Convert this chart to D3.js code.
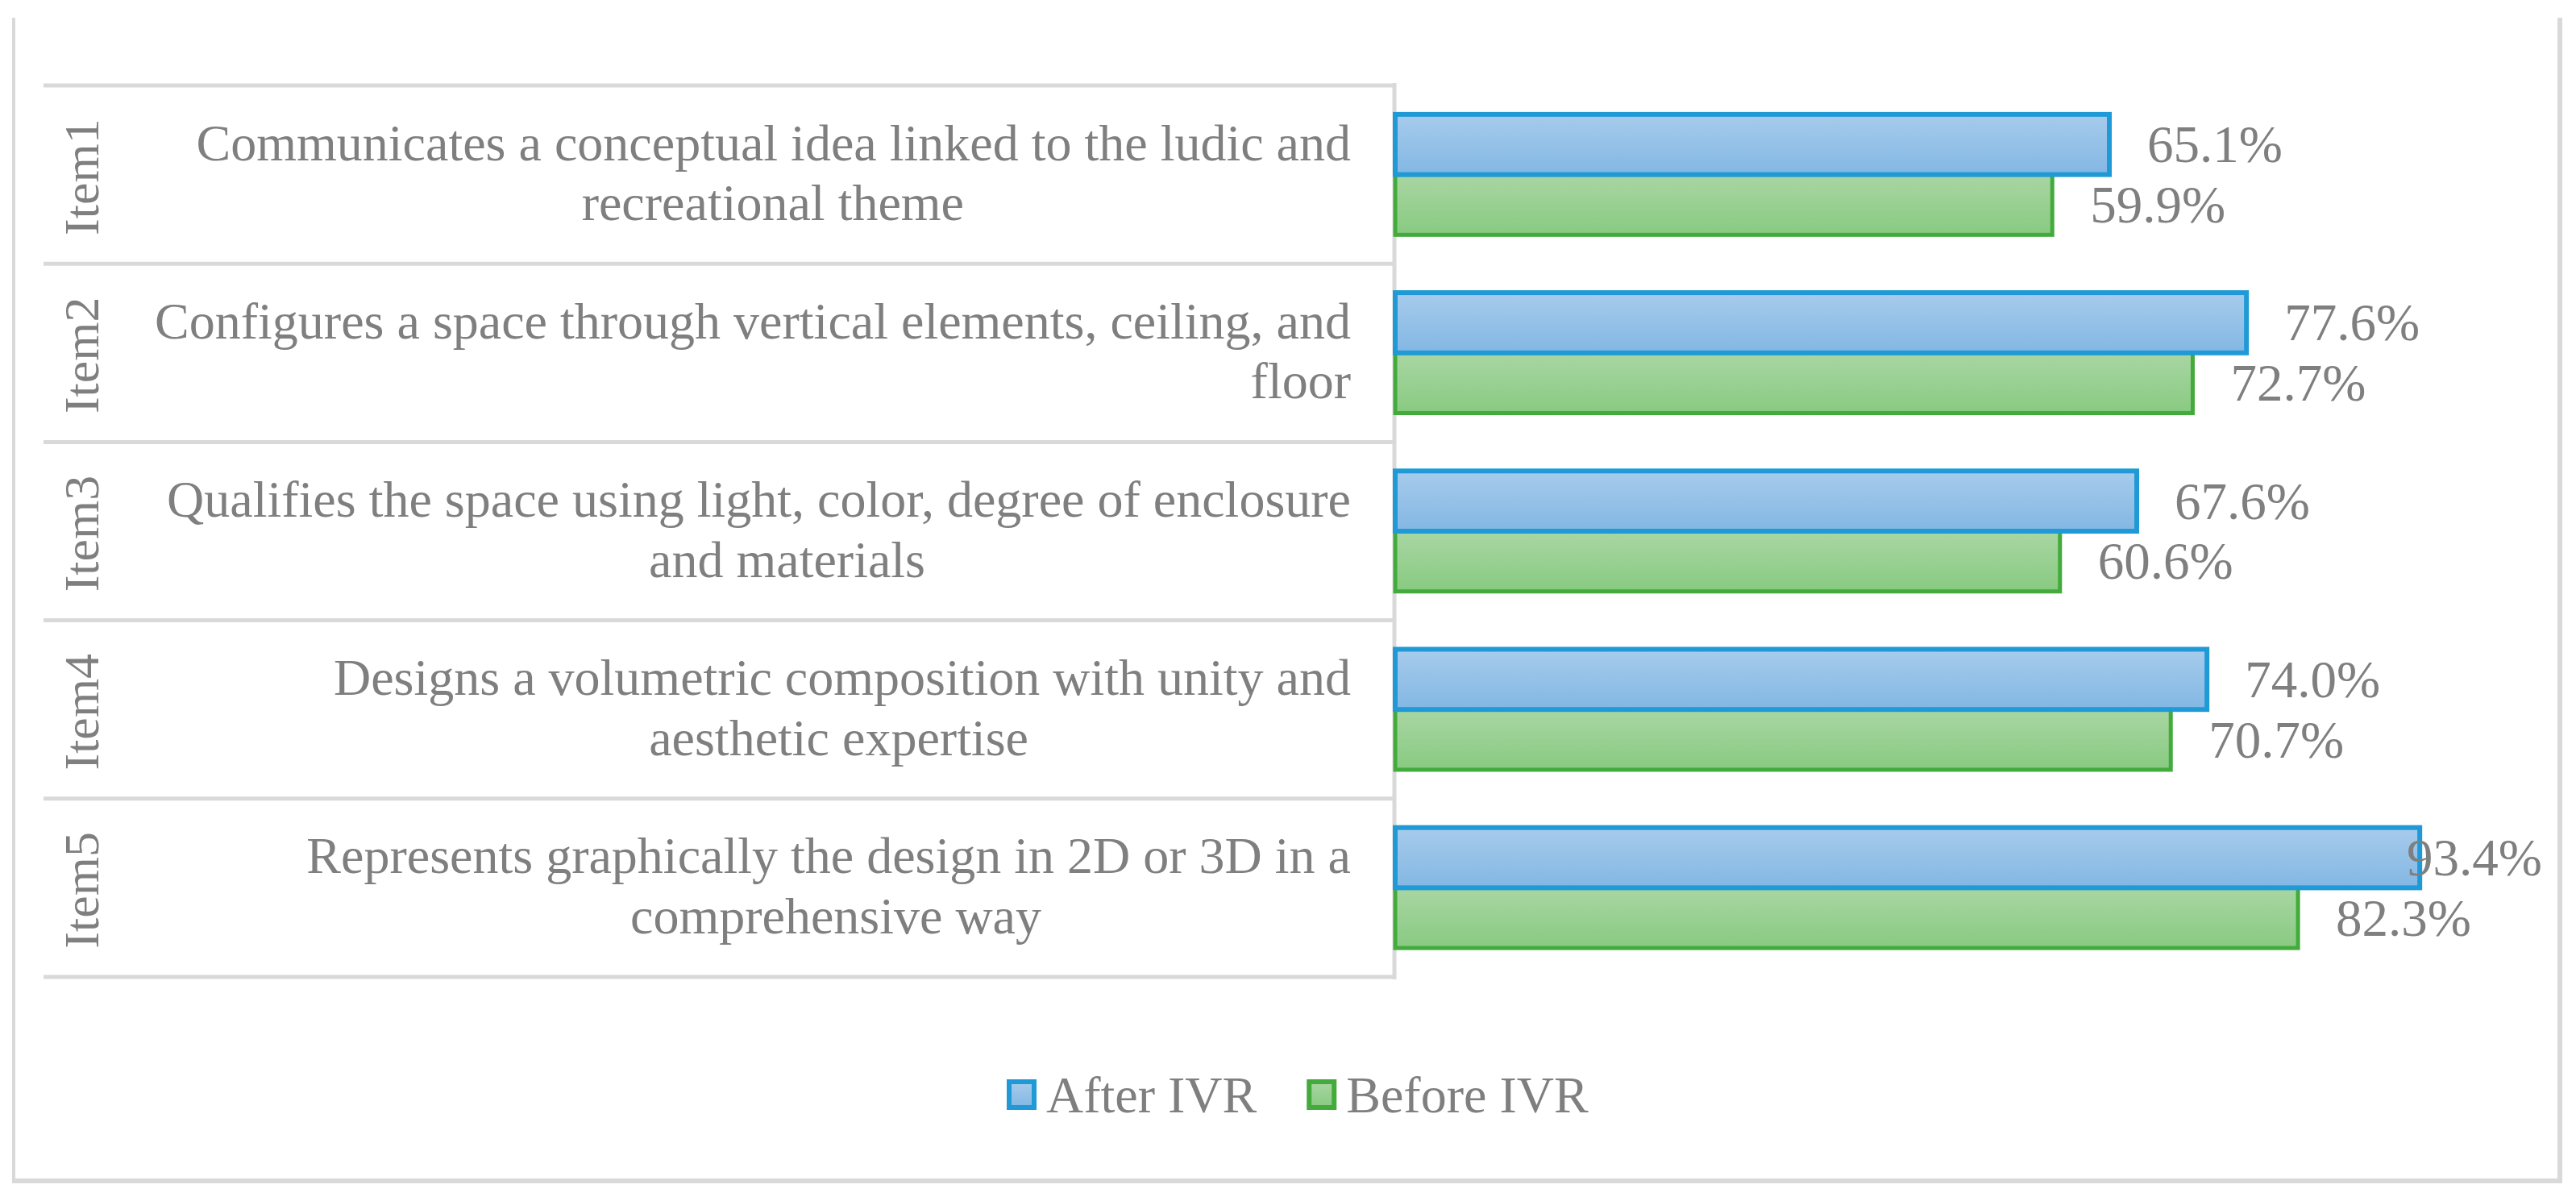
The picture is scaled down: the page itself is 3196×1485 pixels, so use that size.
<!DOCTYPE html>
<html>
<head>
<meta charset="utf-8">
<script src="https://cdn.jsdelivr.net/npm/d3@7"></script>
<style>
  html, body { margin: 0; padding: 0; background: #ffffff; }
  svg text { font-family: "Liberation Serif", "Times New Roman", serif; fill: #7f7f7f; white-space: pre; }
</style>
</head>
<body>
<svg id="chart" width="3196" height="1485" xml:space="preserve"></svg>
<script>
// ---------------- data ----------------
const items = ["Item1", "Item2", "Item3", "Item4", "Item5"];
const itemTexts = [
  ["Communicates a conceptual idea linked to the ludic and", "recreational theme                              "],
  ["Configures a space through vertical elements, ceiling, and", "floor"],
  ["Qualifies the space using light, color, degree of enclosure", "and materials                                 "],
  ["Designs a volumetric composition with unity and", "aesthetic expertise                         "],
  ["Represents graphically the design in 2D or 3D in a", "comprehensive way                        "]
];
const seriesNames = ["After IVR", "Before IVR"];
const afterIVR  = [65.1, 77.6, 67.6, 74.0, 93.4];
const beforeIVR = [59.9, 72.7, 60.6, 70.7, 82.3];
const xDomain = [0, 100];

// ---------------- layout ----------------
const svg = d3.select("#chart");
const tableLeft = 54, tableRight = 1730;
const plotLeft = 1731, plotRight = 3092;
const rowTop = 106, rowBottom = 1212;
const labelMaxRight = 3154;
const descSize = 64, valueSize = 65, itemSize = 62, legendSize = 64;
const gridColor = "#d9d9d9";
const colors = {
  "After IVR":  { stroke: "#1f9ad6", top: "#a7cbec", bottom: "#82b7e3", grad: "gAfter" },
  "Before IVR": { stroke: "#43aa3c", top: "#a9d6a3", bottom: "#88ca81", grad: "gBefore" }
};

const defs = svg.append("defs");
seriesNames.forEach(s => {
  const g = defs.append("linearGradient").attr("id", colors[s].grad)
    .attr("x1", 0).attr("y1", 0).attr("x2", 0).attr("y2", 1);
  g.append("stop").attr("offset", "0%").attr("stop-color", colors[s].top);
  g.append("stop").attr("offset", "100%").attr("stop-color", colors[s].bottom);
});

// outer frame
const frame = svg.append("g");
frame.append("line").attr("x1", 17).attr("x2", 17).attr("y1", 22).attr("y2", 1465)
  .attr("stroke", gridColor).attr("stroke-width", 4);
frame.append("line").attr("x1", 3176).attr("x2", 3176).attr("y1", 22).attr("y2", 1468)
  .attr("stroke", gridColor).attr("stroke-width", 6);
frame.append("line").attr("x1", 15).attr("x2", 3179).attr("y1", 1465).attr("y2", 1465)
  .attr("stroke", gridColor).attr("stroke-width", 6);

// scales
const y = d3.scaleBand().domain(items).range([rowTop, rowBottom]).paddingInner(0).paddingOuter(0);
const ySub = d3.scaleBand().domain(seriesNames).range([0, y.bandwidth()]).paddingInner(0).paddingOuter(0.48);
const x = d3.scaleLinear().domain(xDomain).range([plotLeft, plotRight]);

// table lines
const table = svg.append("g");
const boundaries = items.map(d => y(d)).concat([y(items[items.length - 1]) + y.bandwidth()]);
table.selectAll("line.row").data(boundaries).join("line")
  .attr("class", "row")
  .attr("x1", tableLeft).attr("x2", tableRight + 2)
  .attr("y1", d => d).attr("y2", d => d)
  .attr("stroke", gridColor).attr("stroke-width", 5);
table.append("line").attr("x1", tableRight).attr("x2", tableRight)
  .attr("y1", rowTop - 3).attr("y2", rowBottom + 3)
  .attr("stroke", gridColor).attr("stroke-width", 5);

// rotated item labels
svg.append("g").selectAll("text").data(items).join("text")
  .attr("transform", d => `translate(122,${y(d) + y.bandwidth() / 2 + 3}) rotate(-90)`)
  .attr("text-anchor", "middle")
  .attr("font-size", itemSize)
  .text(d => d);

// description labels
const desc = svg.append("g");
items.forEach((it, i) => {
  const cy = y(it) + y.bandwidth() / 2;
  const t = desc.append("text").attr("font-size", descSize).attr("text-anchor", "end");
  itemTexts[i].forEach((line, j) => {
    t.append("tspan").attr("x", 1676).attr("y", cy - 18 + j * 74.5).text(line);
  });
});

// bars
const rows = items.map((it, i) => ({ item: it, values: [
  { s: "After IVR", v: afterIVR[i] },
  { s: "Before IVR", v: beforeIVR[i] }
]}));
const barG = svg.append("g");
const groups = barG.selectAll("g").data(rows).join("g")
  .attr("transform", d => `translate(0,${y(d.item)})`);
groups.selectAll("rect").data(d => d.values.slice().reverse()).join("rect")
  .attr("x", x(0))
  .attr("y", d => ySub(d.s))
  .attr("width", d => x(d.v) - x(0))
  .attr("height", ySub.bandwidth())
  .attr("fill", d => `url(#${colors[d.s].grad})`)
  .attr("stroke", d => colors[d.s].stroke)
  .attr("stroke-width", d => d.s === "After IVR" ? 6 : 5);

// value labels
groups.selectAll("text").data(d => d.values).join("text")
  .attr("font-size", valueSize)
  .attr("y", d => ySub(d.s) + ySub.bandwidth() / 2 + 22)
  .text(d => d.v.toFixed(1) + "%")
  .each(function(d) {
    const w = this.getComputedTextLength();
    let px = x(d.v) + 47;
    if (px + w > labelMaxRight) px = labelMaxRight - w;
    d3.select(this).attr("x", px);
  });

// legend
const legend = svg.append("g");
let lx = 1249;
seriesNames.forEach((s) => {
  const g = legend.append("g");
  g.append("rect").attr("x", lx + 3).attr("y", 1342).attr("width", 31).attr("height", 32)
    .attr("fill", `url(#${colors[s].grad})`).attr("stroke", colors[s].stroke).attr("stroke-width", 6);
  const t = g.append("text").attr("x", lx + 49).attr("y", 1380).attr("font-size", legendSize).text(s);
  lx += 49 + t.node().getComputedTextLength() + 62;
});
</script>
</body>
</html>
